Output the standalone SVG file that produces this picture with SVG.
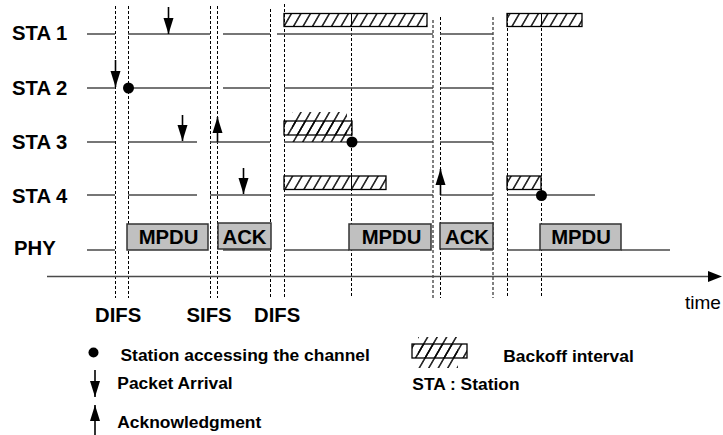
<svg xmlns="http://www.w3.org/2000/svg" width="723" height="435" viewBox="0 0 723 435">
<defs>
<pattern id="hatch" patternUnits="userSpaceOnUse" width="9.5" height="10" patternTransform="skewX(-30)">
<line x1="4.75" y1="-1" x2="4.75" y2="11" stroke="#000" stroke-width="1.6"/>
</pattern>
<marker id="ah" markerUnits="userSpaceOnUse" markerWidth="17" markerHeight="11" refX="16" refY="5.5" orient="auto">
<path d="M0,0.5 L16,5.5 L0,10.5 z" fill="#000"/>
</marker>
<style>
.dash{stroke:#000;stroke-width:1;stroke-dasharray:3,2;fill:none}
.tl{stroke:#4a4a4a;stroke-width:1.5;fill:none}
.hb{fill:url(#hatch);stroke:#000;stroke-width:1.3}
.hx{fill:url(#hatch);stroke:none}
.pk{fill:#c0c0c0;stroke:#333;stroke-width:1.5}
.big{font-family:"Liberation Sans",Arial,sans-serif;font-weight:bold;font-size:20.3px;fill:#000}
.lg{font-family:"Liberation Sans",Arial,sans-serif;font-weight:bold;font-size:17.4px;fill:#000}
.arr{stroke:#000;stroke-width:1.6;fill:none;marker-end:url(#ah)}
.dot{fill:#000}
</style>
</defs>
<rect width="723" height="435" fill="#fff"/>

<g id="guides">
<line class="dash" x1="115.5" y1="6" x2="115.5" y2="298"/>
<line class="dash" x1="128.5" y1="6" x2="128.5" y2="298"/>
<line class="dash" x1="210.5" y1="6" x2="210.5" y2="298"/>
<line class="dash" x1="217.5" y1="6" x2="217.5" y2="298"/>
<line class="dash" x1="270.5" y1="9" x2="270.5" y2="298"/>
<line class="dash" x1="284.5" y1="4" x2="284.5" y2="298"/>
<line class="dash" x1="351.5" y1="13" x2="351.5" y2="298"/>
<line class="dash" x1="433" y1="20" x2="433" y2="298" stroke="#666"/>
<line class="dash" x1="440.5" y1="17" x2="440.5" y2="298"/>
<line class="dash" x1="493" y1="17" x2="493" y2="298"/>
<line class="dash" x1="507.5" y1="13" x2="507.5" y2="298"/>
<line class="dash" x1="541.5" y1="13" x2="541.5" y2="298"/>
</g>

<g id="sta1">
<text class="big" x="12" y="39.5">STA 1</text>
<path class="tl" d="M87,34H115M128,34H210M223,34H270M277,34H433M440,34H493"/>
<rect class="hb" x="284" y="13.5" width="143" height="13"/>
<rect class="hb" x="507" y="13.5" width="75" height="13"/>
<line x1="351.5" y1="13.5" x2="351.5" y2="26.5" stroke="#000" stroke-width="1"/>
<line x1="541.5" y1="13.5" x2="541.5" y2="26.5" stroke="#000" stroke-width="1"/>
</g>

<g id="sta2">
<text class="big" x="12" y="95">STA 2</text>
<path class="tl" d="M87,88H115M128,88H210M223,88H270M284,88H433M440,88H493"/>
<circle class="dot" cx="128.5" cy="88" r="5.5"/>
</g>

<g id="sta3">
<text class="big" x="12" y="148.5">STA 3</text>
<path class="tl" d="M87,142H115M128,142H197M210,142H270M284,142H433M440,142H493"/>
<rect class="hx" x="292" y="112" width="55" height="30"/>
<rect class="hb" x="284" y="121" width="68" height="14"/>
<circle class="dot" cx="352" cy="142" r="5.5"/>
</g>

<g id="sta4">
<text class="big" x="12" y="203">STA 4</text>
<path class="tl" d="M87,195H115M128,195H197M210,195H270M284,195H433M440,195H493M507,195H595"/>
<rect class="hb" x="284" y="176" width="102" height="13.5"/>
<line x1="351.5" y1="176" x2="351.5" y2="189.5" stroke="#000" stroke-width="1"/>
<rect class="hb" x="507" y="176" width="34" height="13.5"/>
<circle class="dot" cx="541.5" cy="195.5" r="5.5"/>
</g>

<g id="phy">
<text class="big" x="14" y="255">PHY</text>
<path class="tl" d="M87,250H115M223,250H271M284,250H349M480,250H493M507,250H540M621,250H670"/>
<rect class="pk" x="127" y="224" width="81" height="26"/>
<text class="big" x="168.5" y="244" text-anchor="middle">MPDU</text>
<rect class="pk" x="218" y="223" width="53" height="26"/>
<text class="big" x="244.5" y="244" text-anchor="middle">ACK</text>
<rect class="pk" x="349" y="224" width="82" height="26"/>
<text class="big" x="391.5" y="244" text-anchor="middle">MPDU</text>
<rect class="pk" x="440" y="223" width="53" height="26"/>
<text class="big" x="467" y="244" text-anchor="middle">ACK</text>
<rect class="pk" x="540" y="224" width="81" height="26"/>
<text class="big" x="581" y="244" text-anchor="middle">MPDU</text>
</g>

<g id="time-axis">
<line x1="47" y1="276.5" x2="710" y2="276.5" stroke="#4a4a4a" stroke-width="1.5"/>
<polygon points="708,271 722,276.5 708,282" fill="#000"/>
<text x="685" y="309" font-family="Liberation Sans, Arial, sans-serif" font-size="19" fill="#000">time</text>
</g>

<g id="intervals">
<text class="big" x="95" y="322">DIFS</text>
<text class="big" x="186.5" y="322">SIFS</text>
<text class="big" x="254" y="322">DIFS</text>
</g>

<g id="connectors">
<line class="arr" x1="168.5" y1="7" x2="168.5" y2="34"/>
<line class="arr" x1="115.5" y1="60" x2="115.5" y2="87"/>
<line class="arr" x1="182.5" y1="115" x2="182.5" y2="141"/>
<line class="arr" x1="217.5" y1="142" x2="217.5" y2="117"/>
<line class="arr" x1="243.5" y1="168" x2="243.5" y2="194"/>
<line class="arr" x1="440.5" y1="195" x2="440.5" y2="169"/>
</g>

<g id="legend">
<circle class="dot" cx="93.5" cy="352.5" r="5"/>
<text class="lg" x="120.5" y="361">Station accessing the channel</text>
<line class="arr" x1="95" y1="370" x2="95" y2="397"/>
<text class="lg" x="117.3" y="389">Packet Arrival</text>
<line class="arr" x1="95" y1="435" x2="95" y2="405"/>
<text class="lg" x="117.3" y="428">Acknowledgment</text>
<rect class="hx" x="418" y="337" width="40" height="31"/>
<rect class="hb" x="412" y="344" width="55" height="14"/>
<text class="lg" x="503.3" y="362">Backoff interval</text>
<text class="lg" x="412.3" y="389.5">STA : Station</text>
</g>
</svg>
